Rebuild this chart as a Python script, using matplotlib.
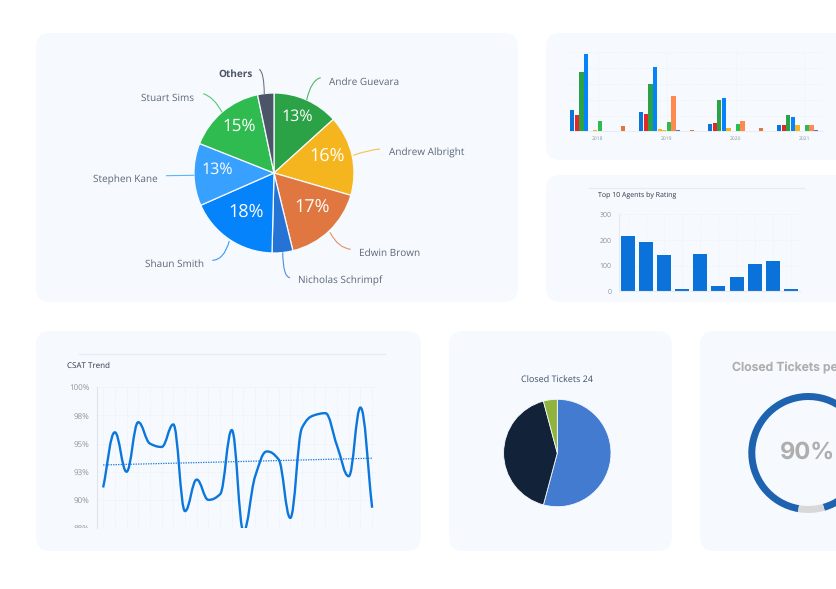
import numpy as np
import matplotlib
matplotlib.use("Agg")
import matplotlib.pyplot as plt
from matplotlib.patches import FancyBboxPatch, PathPatch
from matplotlib.path import Path
from matplotlib.transforms import Bbox

plt.rcParams['font.family'] = ['Open Sans', 'DejaVu Sans']
plt.rcParams['text.hinting'] = 'no_hinting'
plt.rcParams['text.hinting_factor'] = 1

W, H = 836, 589
CARD = '#f6fafe'
GRID = '#e6eaf0'
TICK = '#8b929e'
LABEL = '#5d6678'

# agents pie
agent_names = ['Andre Guevara', 'Andrew Albright', 'Edwin Brown', 'Nicholas Schrimpf',
               'Shaun Smith', 'Stephen Kane', 'Stuart Sims', 'Others']
agent_share = [13.3, 16.2, 16.7, 4.2, 18.0, 12.6, 15.7, 3.3]
agent_pct_labels = ['13%', '16%', '17%', '', '18%', '13%', '15%', '']
agent_colors = ['#2ba245', '#f5b51f', '#e07640', '#2673d6', '#0583fb', '#38a0ff', '#30bb50', '#4c5468']

# grouped bars
years = ['2018', '2019', '2020', '2021']
bar_colors = ['#0a74d8', '#e02a2a', '#2ba245', '#0583fb', '#f5b51f', '#f5b51f',
              '#30bb50', '#ff8a50', '#4478c8', '#4478c8', '#4478c8', '#e07640']
s0 = [69, 60, 23, 22]
s1 = [51, 54, 27, 21]
s2 = [188, 148, 99, 51]
s3 = [245, 204, 105, 45]
s4 = [0, 8, 12, 20]
s5 = [4, 4, 1, 0]
s6 = [32, 29, 23, 22]
s7 = [0, 111, 32, 19]
s8 = [1.5, 4, 3, 4]
s9 = [0, 0, 0, 0]
s10 = [0, 0, 0, 0]
s11 = [17, 4, 11, 0]
year_series = [s0, s1, s2, s3, s4, s5, s6, s7, s8, s9, s10, s11]

# top 10 agents
rating_values = [216, 192, 140, 9, 144, 22, 55, 108, 117, 8]

# csat trend
csat_values = [91.1, 96.0, 92.5, 96.9, 95.0, 94.7, 96.7, 89.0, 91.8, 90.0, 90.5, 96.2,
               87.2, 92.1, 94.3, 93.6, 88.4, 96.4, 97.5, 97.7, 94.8, 92.1, 98.2, 89.3]
csat_trend = [93.1, 93.7]
csat_ticks = [87.5, 90, 92.5, 95, 97.5, 100]
csat_tick_labels = ['88%', '90%', '93%', '95%', '98%', '100%']

# closed tickets
closed_counts = [13, 10, 1]
closed_colors = ['#437bd0', '#122238', '#8fb33c']
ring_share = [92.8, 7.2]


def ax_px(x0, y0, x1, y1, **kw):
    # axes from pixel box, y counted from the top
    return fig.add_axes([x0 / W, 1 - y1 / H, (x1 - x0) / W, (y1 - y0) / H], **kw)


def card(x0, y0, x1, y1):
    bg.add_patch(FancyBboxPatch((x0 + 14, y0 + 14), x1 - x0 - 28, y1 - y0 - 28,
                                boxstyle='round,pad=14,rounding_size=14', fc=CARD, ec='none'))


def smooth_path(x, y):
    # cubic segments, flat at the local extremes (pchip style slopes)
    x = np.asarray(x, float)
    y = np.asarray(y, float)
    step = np.diff(y) / np.diff(x)
    slope = np.zeros(len(y))
    for i in range(1, len(y) - 1):
        if step[i - 1] * step[i] > 0:
            slope[i] = 2 * step[i - 1] * step[i] / (step[i - 1] + step[i])
    slope[0] = step[0]
    slope[-1] = step[-1]
    verts = [(x[0], y[0])]
    codes = [Path.MOVETO]
    for i in range(len(y) - 1):
        d = (x[i + 1] - x[i]) * 0.4
        verts += [(x[i] + d, y[i] + slope[i] * d), (x[i + 1] - d, y[i + 1] - slope[i + 1] * d), (x[i + 1], y[i + 1])]
        codes += [Path.CURVE4] * 3
    return Path(verts, codes)


fig = plt.figure(figsize=(W / 100, H / 100), dpi=100, facecolor='white')

bg = ax_px(0, 0, W, H)
bg.set_xlim(0, W)
bg.set_ylim(H, 0)
bg.axis('off')

card(36, 33, 518, 302)
card(546, 33, 860, 160)
card(546, 175, 860, 302)
card(36, 331, 421, 551)
card(449, 331, 672, 551)
card(700, 331, 900, 551)

# agents pie
ax = ax_px(194, 93, 354, 253)
ax.pie(agent_share, colors=agent_colors, startangle=90, counterclock=False, radius=1,
       wedgeprops={'edgecolor': CARD, 'linewidth': 0.9})
ax.set_xlim(-1, 1)
ax.set_ylim(-1, 1)

top = ax_px(0, 0, W, H)
top.set_xlim(0, W)
top.set_ylim(H, 0)
top.axis('off')
top.patch.set_alpha(0)

pct_pos = [(297.7, 116.5), (327.3, 156.5), (311.7, 207.5), None, (246, 212), (217, 170), (239.7, 126.5), None]
pct_size = [11.5, 13, 13, 0, 13, 11.5, 12.5, 0]
for text, pos, size in zip(agent_pct_labels, pct_pos, pct_size):
    if pos is not None:
        top.text(pos[0], pos[1], text, color='white', fontsize=size, ha='center', va='center')

label_pos = [(328.7, 82, 'left'), (388.7, 153, 'left'), (359, 253, 'left'), (298.3, 281, 'left'),
             (204, 264, 'right'), (157.3, 179, 'right'), (194.3, 98.3, 'right'), (252.7, 74, 'right')]
leaders = [((306.7, 100), (311, 80), (320.7, 77.7)),
           ((353.3, 155.3), (368, 150), (380, 149)),
           ((330, 232.3), (338, 248), (350.7, 249.3)),
           ((282.7, 252.3), (283, 277), (290, 277.7)),
           ((229.3, 241), (224, 260), (212.3, 260.3)),
           ((194.3, 175.3), (180, 175.5), (166, 175.7)),
           ((222, 112.3), (214, 97), (203.3, 93.7)),
           ((264.3, 94), (264, 72), (259.3, 69.3))]
for i, name in enumerate(agent_names):
    lx, ly, ha = label_pos[i]
    bold = name == 'Others'
    top.text(lx, ly, name, ha=ha, va='center', fontsize=7.5, color='#4c5468' if bold else LABEL,
             fontweight='bold' if bold else 'normal')
    top.add_patch(PathPatch(Path(leaders[i], [Path.MOVETO, Path.CURVE3, Path.CURVE3]), fc='none',
                            ec=agent_colors[i], lw=0.8, alpha=0.8))

# grouped bars
ax = ax_px(569, 52, 823, 131.5)
ax.patch.set_alpha(0)
group_step = 14.9
for s, vals in enumerate(year_series):
    xs = [g * group_step + s - 5.5 for g in range(len(years))]
    ax.bar(xs, vals, width=0.92, color=bar_colors[s], zorder=2)
ax.set_xlim(-6.2, 48.7)
ax.set_ylim(0, 250)
ax.set_xticks([g * group_step for g in range(len(years))])
ax.set_xticklabels(years, fontsize=3.8, color=TICK)
ax.set_yticks(range(0, 251, 50))
ax.set_yticklabels([])
ax.tick_params(length=0, pad=3)
ax.grid(True, color=GRID, lw=0.4, ls=':')
ax.set_axisbelow(True)
for side in ['top', 'right', 'left']:
    ax.spines[side].set_visible(False)
ax.spines['bottom'].set_color(GRID)
ax.spines['bottom'].set_linewidth(0.6)

# top 10 agents
top.plot([589, 804], [187.7, 187.7], color='#e8ecf1', lw=0.9)
top.text(598, 195.5, 'Top 10 Agents by Rating', fontsize=5.2, color='#2c3442', va='center')
ax = ax_px(618.7, 214.3, 800, 291.3)
ax.patch.set_alpha(0)
ax.bar(range(len(rating_values)), rating_values, width=0.77, color='#0a72d9', zorder=2)
ax.set_xlim(-0.5, 9.5)
ax.set_ylim(0, 300)
ax.set_yticks([0, 100, 200, 300])
ax.set_xticks(np.arange(len(rating_values)))
ax.set_xticklabels([])
ax.tick_params(length=0, pad=5, labelsize=5.2, labelcolor=TICK)
ax.grid(True, color=GRID, lw=0.4, ls=':')
ax.set_axisbelow(True)
for side in ['top', 'right']:
    ax.spines[side].set_visible(False)
ax.spines['left'].set_color(GRID)
ax.spines['bottom'].set_color(GRID)

# csat trend
top.plot([79, 385], [354.3, 354.3], color='#e8ecf1', lw=0.9)
top.text(67, 365.5, 'CSAT Trend', fontsize=6.0, color='#2c3442', va='center')
ax = ax_px(97.3, 387.3, 378, 528)
ax.patch.set_alpha(0)
x = np.arange(len(csat_values))
ax.add_patch(PathPatch(smooth_path(x, csat_values), fc='none', ec='#0b76dc', lw=1.7, zorder=3))
ax.plot([x[0], x[-1]], csat_trend, color='#0b76dc', lw=0.9, ls=(0, (1, 1)), zorder=2)
ax.set_xlim(-0.5, 23.5)
ax.set_ylim(87.5, 100)
ax.set_xticks(x)
ax.set_xticklabels([])
ax.set_yticks(csat_ticks)
ax.set_yticklabels(csat_tick_labels)
ax.tick_params(length=0, pad=5.8, labelsize=5.9, labelcolor=TICK)
ax.grid(True, color=GRID, lw=0.5, ls=':')
ax.set_axisbelow(True)
for side in ['top', 'right', 'bottom']:
    ax.spines[side].set_visible(False)
ax.spines['left'].set_color('#dfe4ea')
fig.canvas.draw()
# lowest tick label is cut by the card in the source
ax.get_yticklabels()[0].set_clip_box(Bbox([[0, (H - 528)], [W, H]]))
ax.get_yticklabels()[0].set_clip_on(True)

# closed tickets
top.text(557.3, 379.5, 'Closed Tickets ' + str(sum(closed_counts)), fontsize=6.6, color='#3d4f68', ha='center', va='center')
ax = ax_px(503.6, 399.3, 611, 506.7)
ax.pie(closed_counts, colors=closed_colors, startangle=90, counterclock=False, radius=1,
       wedgeprops={'edgecolor': CARD, 'linewidth': 0.6})
ax.set_xlim(-1, 1)
ax.set_ylim(-1, 1)

# closed tickets per agent, only the start of the title fits on the canvas
top.text(731.7, 367.5, 'Closed Tickets pe', fontsize=8.8, color='#aeaeae', fontweight='semibold',
         va='center', family='Inter')
ax = ax_px(748.3, 393, 868.3, 513)
ax.pie(ring_share, colors=['#1e63b0', '#d8d8d8'], startangle=260, counterclock=False, radius=1,
       wedgeprops={'width': 0.117, 'edgecolor': 'none'})
ax.set_xlim(-1, 1)
ax.set_ylim(-1, 1)
top.text(808, 453, '90%', fontsize=17, color='#aeaeae', fontweight='bold', ha='center', va='center', family='Inter')

fig.savefig('out.png', dpi=100)
